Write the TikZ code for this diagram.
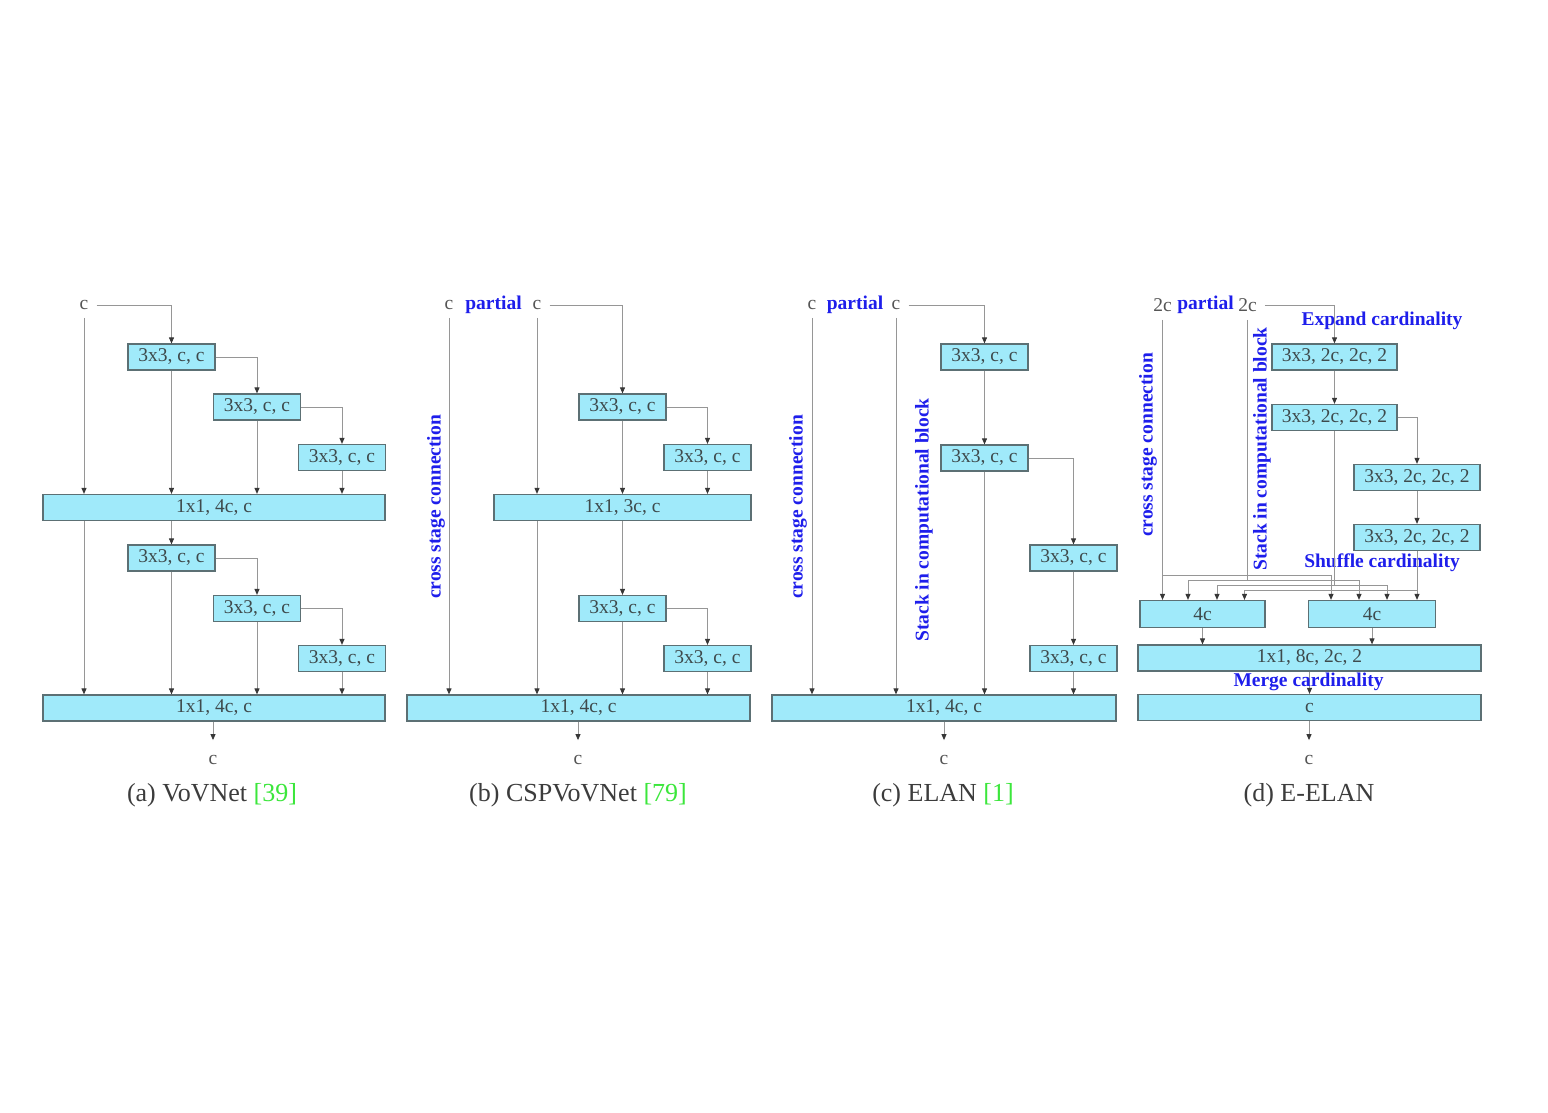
\documentclass[tikz,border=0pt]{standalone}
\usepackage{fontspec}
\setmainfont{Liberation Serif}
\usepackage{xcolor}
\usepackage{tikz}
\usetikzlibrary{arrows.meta}
\definecolor{boxfill}{RGB}{160,234,250}
\definecolor{boxedge}{RGB}{92,112,116}
\definecolor{boxtext}{RGB}{62,74,76}
\definecolor{linegray}{RGB}{150,150,150}
\definecolor{tipgray}{RGB}{55,55,55}
\definecolor{lblgray}{RGB}{85,85,85}
\definecolor{noteblue}{RGB}{30,30,235}
\definecolor{capgray}{RGB}{60,60,60}
\definecolor{citegreen}{RGB}{60,230,60}
\newcommand{\boxfont}{\fontsize{19.5}{23}\selectfont}
\newcommand{\notefont}{\fontsize{19.5}{23}\selectfont\bfseries}
\newcommand{\capfont}{\fontsize{26}{30}\selectfont}

\begin{document}
\begin{tikzpicture}[x=1pt, y=-1pt,
    blk/.style={draw=boxedge, fill=boxfill, line width=1.2pt, minimum height=26pt, inner sep=0pt, text=boxtext, font=\boxfont},
    conv/.style={blk, minimum width=87pt},
    lbl/.style={text=lblgray, font=\boxfont, inner sep=8pt},
    note/.style={text=noteblue, font=\notefont, inner sep=1pt},
    captxt/.style={text=capgray, font=\capfont},
    wire/.style={draw=linegray, line width=0.9pt},
    link/.style={wire, -{Triangle[length=6pt, width=5pt, color=tipgray]}}]
    \useasboundingbox (0,0) rectangle (1548,1113);

    % (a) VoVNet
    \node[lbl] (ain) at (84,305) {c};
    \node[conv] (a1) at (171.5,357) {3x3, c, c};
    \node[conv] (a2) at (257,407) {3x3, c, c};
    \node[conv] (a3) at (342,457.5) {3x3, c, c};
    \node[blk, minimum width=342pt] (amid) at (214,507.5) {1x1, 4c, c};
    \node[conv] (a4) at (171.5,558) {3x3, c, c};
    \node[conv] (a5) at (257,608.5) {3x3, c, c};
    \node[conv] (a6) at (342,658.5) {3x3, c, c};
    \node[blk, minimum width=342pt] (aend) at (214,708) {1x1, 4c, c};
    \node[lbl] (aout) at (213,760) {c};
    \node[captxt] (acap) at (212,795) {(a) VoVNet \textcolor{citegreen}{[39]}};

    \draw[link] (ain.east) -| (a1.north);
    \draw[link] (a1.east) -| (a2.north);
    \draw[link] (a2.east) -| (a3.north);
    \draw[link] (ain.south) -- (ain.south |- amid.north);
    \draw[link] (a1.south) -- (a1.south |- amid.north);
    \draw[link] (a2.south) -- (a2.south |- amid.north);
    \draw[link] (a3.south) -- (a3.south |- amid.north);
    \draw[link] (ain.south |- amid.south) -- (ain.south |- aend.north);
    \draw[link] (a1.south |- amid.south) -- (a4.north);
    \draw[link] (a4.east) -| (a5.north);
    \draw[link] (a5.east) -| (a6.north);
    \draw[link] (a4.south) -- (a4.south |- aend.north);
    \draw[link] (a5.south) -- (a5.south |- aend.north);
    \draw[link] (a6.south) -- (a6.south |- aend.north);
    \draw[link, shorten >=7pt] (aout |- aend.south) -- (aout);

    % (b) CSPVoVNet
    \node[lbl] (bx) at (449,305) {c};
    \node[note] (bpart) at (493.5,305) {partial};
    \node[lbl] (bin) at (537,305) {c};
    \node[note, rotate=90] (bcross) at (436,507) {cross stage connection};
    \node[conv] (b1) at (622.5,407) {3x3, c, c};
    \node[conv] (b2) at (707.5,457.5) {3x3, c, c};
    \node[blk, minimum width=257pt] (bmid) at (622.5,507.5) {1x1, 3c, c};
    \node[conv] (b3) at (622.5,608.5) {3x3, c, c};
    \node[conv] (b4) at (707.5,658.5) {3x3, c, c};
    \node[blk, minimum width=343pt] (bend) at (578.5,708) {1x1, 4c, c};
    \node[lbl] (bout) at (578,760) {c};
    \node[captxt] (bcap) at (578,795) {(b) CSPVoVNet \textcolor{citegreen}{[79]}};

    \draw[link] (bin.east) -| (b1.north);
    \draw[link] (b1.east) -| (b2.north);
    \draw[link] (bin.south) -- (bin.south |- bmid.north);
    \draw[link] (b1.south) -- (b1.south |- bmid.north);
    \draw[link] (b2.south) -- (b2.south |- bmid.north);
    \draw[link] (bx.south) -- (bx.south |- bend.north);
    \draw[link] (bin.south |- bmid.south) -- (bin.south |- bend.north);
    \draw[link] (b1.south |- bmid.south) -- (b3.north);
    \draw[link] (b3.east) -| (b4.north);
    \draw[link] (b3.south) -- (b3.south |- bend.north);
    \draw[link] (b4.south) -- (b4.south |- bend.north);
    \draw[link, shorten >=7pt] (bout |- bend.south) -- (bout);

    % (c) ELAN
    \node[lbl] (cx) at (812,305) {c};
    \node[note] (cpart) at (855,305) {partial};
    \node[lbl] (cin) at (896,305) {c};
    \node[note, rotate=90] (ccross) at (798,507) {cross stage connection};
    \node[note, rotate=90] (cstack) at (924,520) {Stack in computational block};
    \node[conv] (c1) at (984.5,357) {3x3, c, c};
    \node[conv] (c2) at (984.5,458) {3x3, c, c};
    \node[conv] (c3) at (1073.5,558) {3x3, c, c};
    \node[conv] (c4) at (1073.5,658.5) {3x3, c, c};
    \node[blk, minimum width=344pt] (cend) at (944,708) {1x1, 4c, c};
    \node[lbl] (cout) at (944,760) {c};
    \node[captxt] (ccap) at (943,795) {(c) ELAN \textcolor{citegreen}{[1]}};

    \draw[link] (cin.east) -| (c1.north);
    \draw[link] (c1) -- (c2);
    \draw[link] (c2.east) -| (c3.north);
    \draw[link] (c3) -- (c4);
    \draw[link] (cx.south) -- (cx.south |- cend.north);
    \draw[link] (cin.south) -- (cin.south |- cend.north);
    \draw[link] (c2.south) -- (c2.south |- cend.north);
    \draw[link] (c4.south) -- (c4.south |- cend.north);
    \draw[link, shorten >=7pt] (cout |- cend.south) -- (cout);

    % (d) E-ELAN
    \node[lbl] (dx) at (1162.5,305) {2c};
    \node[note] (dpart) at (1205.5,305) {partial};
    \node[lbl] (din) at (1247.5,305) {2c};
    \node[note] (dexp) at (1382,321) {Expand cardinality};
    \node[note, rotate=90] (dcross) at (1148,445) {cross stage connection};
    \node[note, rotate=90] (dstack) at (1262,449) {Stack in computational block};
    \node[blk, minimum width=125pt] (d1) at (1334.5,357) {3x3, 2c, 2c, 2};
    \node[blk, minimum width=125pt] (d2) at (1334.5,417.5) {3x3, 2c, 2c, 2};
    \node[blk, minimum width=126pt] (d3) at (1417,477.5) {3x3, 2c, 2c, 2};
    \node[blk, minimum width=126pt] (d4) at (1417,537.5) {3x3, 2c, 2c, 2};
    \node[note] (dshuf) at (1382,563) {Shuffle cardinality};
    \node[blk, minimum width=125pt, minimum height=27pt] (dl) at (1202.5,614) {4c};
    \node[blk, minimum width=127pt, minimum height=27pt] (dr) at (1372,614) {4c};
    \node[blk, minimum width=343pt] (dmrg) at (1309.5,658) {1x1, 8c, 2c, 2};
    \node[blk, minimum width=343pt] (dend) at (1309.5,707.5) {c};
    \node[lbl] (dout) at (1309,760) {c};
    \node[captxt] (dcap) at (1309,795) {(d) E-ELAN};

    \draw[link] (din.east) -| (d1.north);
    \draw[link] (d1) -- (d2);
    \draw[link] (d2.east) -| (d3.north);
    \draw[link] (d3) -- (d4);

    % shuffle levels and inputs
    \coordinate (sh1) at (0,575);
    \coordinate (sh2) at (0,580);
    \coordinate (sh3) at (0,585);
    \coordinate (sh4) at (0,590);
    \coordinate (li2) at ([xshift=-14.5pt]dl.north);
    \coordinate (li3) at ([xshift=14.5pt]dl.north);
    \coordinate (li4) at ([xshift=42pt]dl.north);
    \coordinate (ri1) at ([xshift=-41pt]dr.north);
    \coordinate (ri2) at ([xshift=-13pt]dr.north);
    \coordinate (ri3) at ([xshift=15pt]dr.north);

    \draw[link] (dx.south) -- (dx.south |- dl.north);
    \draw[link] (dx.south |- sh1) -| (ri1);
    \draw[wire] (din.south) -- (din.south |- sh2);
    \draw[link] (din.south |- sh2) -| (li2);
    \draw[link] (din.south |- sh2) -| (ri2);
    \draw[wire] (d2.south) -- (d2.south |- sh3);
    \draw[link] (d2.south |- sh3) -| (li3);
    \draw[link] (d2.south |- sh3) -| (ri3);
    \draw[link] (d4.south) -- (d4.south |- dr.north);
    \draw[link] (d4.south |- sh4) -| (li4);

    \draw[link] (dl.south) -- (dl.south |- dmrg.north);
    \draw[link] (dr.south) -- (dr.south |- dmrg.north);
    \draw[link] (dmrg) -- (dend);
    \node[note] (dmrgtxt) at (1308.5,682) {Merge cardinality};
    \draw[link, shorten >=7pt] (dout |- dend.south) -- (dout);
\end{tikzpicture}
\end{document}
